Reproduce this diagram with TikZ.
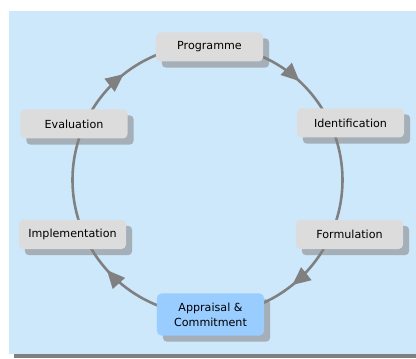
\documentclass[tikz,border=0pt]{standalone}
\usepackage{fontspec}
\setmainfont{DejaVu Sans}
\usetikzlibrary{calc,arrows.meta,decorations.markings,backgrounds}
\definecolor{skyback}{HTML}{CCE8FA}
\definecolor{boxgray}{HTML}{DCDCDC}
\definecolor{boxshade}{HTML}{A5AFB8}
\definecolor{boxblue}{HTML}{99CCFF}
\definecolor{ringgray}{HTML}{808080}
\tikzset{
  phase/.style={fill=boxgray, rounded corners=0.13cm, minimum width=3.21cm, minimum height=0.87cm, inner sep=1pt, align=center, font=\fontsize{9.5}{13}\selectfont},
  ring/.style={draw=ringgray, line width=2.2pt},
  arrowat/.style={postaction={decorate}, decoration={markings, mark=at position #1 with {\arrow[ringgray]{Triangle[length=0.54cm,width=0.48cm]}}}},
}
\newcommand\boxshadow[1]{\fill[boxshade, rounded corners=0.13cm] ([shift={(6,-6)}]#1.south west) rectangle ([shift={(6,-6)}]#1.north east);}

\begin{document}
\begin{tikzpicture}[x=0.03cm,y=0.03cm]
		%%%%% START %%%%%
		\useasboundingbox (0,0) rectangle (416,358);
		
		\coordinate (hub) at (207.5,178);
		\coordinate (at-prog) at ($(hub)+(90:135)$);
		\coordinate (at-iden) at ($(hub)+(25:135)$);
		\coordinate (at-form) at ($(hub)+(-24:135)$);
		\coordinate (at-appr) at ($(hub)+(-90:135)$);
		\coordinate (at-impl) at ($(hub)+(-156:135)$);
		\coordinate (at-eval) at ($(hub)+(155:135)$);
		
		\draw[ring, arrowat=0.66] (at-prog) arc[start angle=90, end angle=25, radius=135];
		\draw[ring] (at-iden) arc[start angle=25, end angle=-24, radius=135];
		\draw[ring, arrowat=0.41] (at-form) arc[start angle=-24, end angle=-90, radius=135];
		\draw[ring, arrowat=0.73] (at-appr) arc[start angle=-90, end angle=-156, radius=135];
		\draw[ring] (at-impl) arc[start angle=-156, end angle=-205, radius=135];
		\draw[ring, arrowat=0.41] (at-eval) arc[start angle=155, end angle=90, radius=135];
		
		\node[phase] (programme) at (209.5,311) {Programme};
		\node[phase] (identification) at (350.5,235) {Identification};
		\node[phase] (formulation) at (349.5,123.5) {Formulation};
		\node[phase, fill=boxblue, minimum height=1.26cm] (appraisal) at (210.5,43.5) {Appraisal \&\\Commitment};
		\node[phase] (implementation) at (72.5,123.5) {Implementation};
		\node[phase] (evaluation) at (74,234) {Evaluation};
		
		\begin{scope}[on background layer]
			\fill[skyback] (9,4) rectangle (416,347);
			\fill[ringgray] (14,0) rectangle (416,4);
			\boxshadow{programme}
			\boxshadow{identification}
			\boxshadow{formulation}
			\boxshadow{appraisal}
			\boxshadow{implementation}
			\boxshadow{evaluation}
		\end{scope}
		
		%%%%% END %%%%%
	\end{tikzpicture}
\end{document}
